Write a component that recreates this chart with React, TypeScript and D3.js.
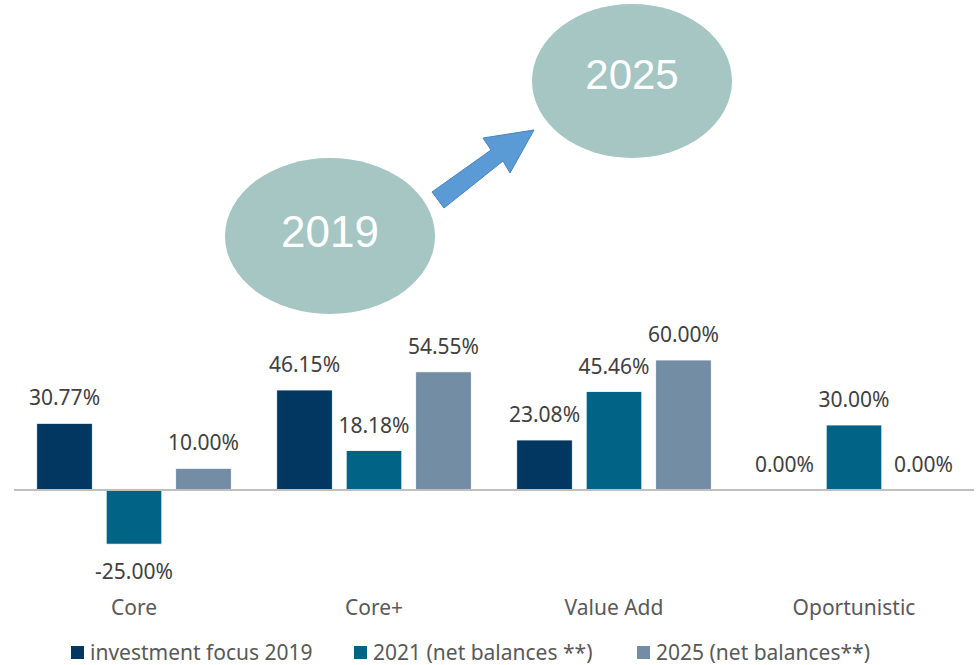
import React from 'react';
import { scaleBand, scaleLinear } from 'd3';

const categories = ['Core', 'Core+', 'Value Add', 'Oportunistic'];
const seriesNames = ['investment focus 2019', '2021 (net balances **)', '2025 (net balances**)'];
const focus2019 = [30.77, 46.15, 23.08, 0];
const net2021 = [-25.0, 18.18, 45.46, 30.0];
const net2025 = [10.0, 54.55, 60.0, 0];
const colors = ['#023761', '#016385', '#728DA4'];

const width = 978;
const height = 665;
const font = '"Noto Sans", sans-serif';

function App() {
  const series = [focus2019, net2021, net2025];

  const xScale = scaleBand()
    .domain(categories)
    .range([14, 974]);

  const inner = scaleBand()
    .domain(seriesNames)
    .range([0, xScale.bandwidth()])
    .paddingInner(0.2)
    .paddingOuter(0.327);

  const yScale = scaleLinear()
    .domain([0, 60])
    .range([490, 360]);

  const y0 = yScale(0);

  // legend positions
  const legendX = [71, 354, 637];

  return (
    <svg width={width} height={height} style={{ position: 'absolute', left: 0, top: 0 }}>
      {/* bubbles and arrow */}
      <ellipse cx={330} cy={236} rx={105} ry={78} fill="#A5C6C3" />
      <ellipse cx={632} cy={81} rx={100} ry={77} fill="#A5C6C3" />
      <text x={330} y={247} textAnchor="middle" fill="#fff" fontSize={44} fontFamily='"Liberation Sans", Arial, sans-serif'>2019</text>
      <text x={632} y={89} textAnchor="middle" fill="#fff" fontSize={42} fontFamily='"Liberation Sans", Arial, sans-serif'>2025</text>
      <polygon
        points="432,192 491,150 483,138 534,130 510,173 503,161 444,208"
        fill="#5B9BD5"
        stroke="#4A83BE"
        strokeWidth={1}
      />

      {/* bars */}
      {series.map((vals, si) =>
        vals.map((v, ci) => {
          const x = xScale(categories[ci])! + inner(seriesNames[si])!;
          const yv = yScale(v);
          return (
            <rect
              key={`${si}-${ci}`}
              x={x}
              y={Math.min(yv, y0)}
              width={inner.bandwidth()}
              height={Math.abs(y0 - yv)}
              fill={colors[si]}
              stroke="#fff"
              strokeWidth={0.8}
            />
          );
        })
      )}

      {/* axis */}
      <line x1={14} x2={974} y1={y0} y2={y0} stroke="#BFBFBF" strokeWidth={2} />

      {/* value labels */}
      {series.map((vals, si) =>
        vals.map((v, ci) => {
          const cx = xScale(categories[ci])! + inner(seriesNames[si])! + inner.bandwidth() / 2;
          const yv = yScale(v);
          const ty = v < 0 ? yv + 35 : yv - 18;
          return (
            <text
              key={`l${si}-${ci}`}
              x={cx}
              y={ty}
              textAnchor="middle"
              fontSize={21}
              fontFamily={font}
              fill="#404040"
            >
              {v.toFixed(2)}%
            </text>
          );
        })
      )}

      {/* category labels */}
      {categories.map(c => (
        <text
          key={c}
          x={xScale(c)! + xScale.bandwidth() / 2}
          y={615}
          textAnchor="middle"
          fontSize={21}
          fontFamily={font}
          fill="#595959"
        >
          {c}
        </text>
      ))}

      {/* legend */}
      {seriesNames.map((s, i) => (
        <g key={s} transform={`translate(${legendX[i]}, 0)`}>
          <rect x={0} y={646} width={13} height={13} fill={colors[i]} />
          <text x={19} y={660} fontSize={21} fontFamily={font} fill="#595959">
            {s}
          </text>
        </g>
      ))}
    </svg>
  );
}

export default App;
